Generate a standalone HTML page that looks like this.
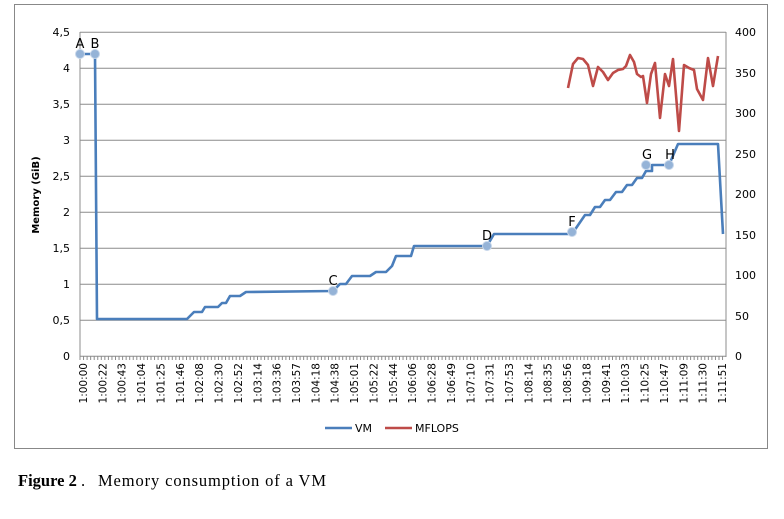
<!DOCTYPE html>
<html><head><meta charset="utf-8"><style>
body{margin:0;background:#fff;width:784px;height:514px;overflow:hidden}
svg text{font-family:"DejaVu Sans","Liberation Sans",sans-serif;fill:#000}
</style></head><body>
<svg width="784" height="514" xmlns="http://www.w3.org/2000/svg">
<rect x="14.5" y="4.5" width="753" height="444" fill="#fff" stroke="#888" stroke-width="1"/>
<g stroke="#8c8c8c" stroke-width="1">
<line x1="80" y1="32.3" x2="726" y2="32.3"/>
<line x1="80" y1="68.3" x2="726" y2="68.3"/>
<line x1="80" y1="104.3" x2="726" y2="104.3"/>
<line x1="80" y1="140.3" x2="726" y2="140.3"/>
<line x1="80" y1="176.3" x2="726" y2="176.3"/>
<line x1="80" y1="212.3" x2="726" y2="212.3"/>
<line x1="80" y1="248.3" x2="726" y2="248.3"/>
<line x1="80" y1="284.3" x2="726" y2="284.3"/>
<line x1="80" y1="320.3" x2="726" y2="320.3"/>
<line x1="80" y1="356.3" x2="726" y2="356.3"/>
<line x1="80" y1="32" x2="80" y2="357"/>
<line x1="726" y1="32" x2="726" y2="357"/>
</g>
<g font-size="11" text-anchor="end">
<text x="70" y="36">4,5</text><text x="70" y="72">4</text><text x="70" y="108">3,5</text>
<text x="70" y="144">3</text><text x="70" y="180">2,5</text><text x="70" y="216">2</text>
<text x="70" y="252">1,5</text><text x="70" y="288">1</text><text x="70" y="324">0,5</text><text x="70" y="360">0</text>
</g>
<g font-size="11">
<text x="735" y="36">400</text><text x="735" y="77">350</text><text x="735" y="117">300</text>
<text x="735" y="158">250</text><text x="735" y="198">200</text><text x="735" y="239">150</text>
<text x="735" y="279">100</text><text x="735" y="320">50</text><text x="735" y="360">0</text>
</g>
<text transform="translate(39,195) rotate(-90)" font-size="10" font-weight="bold" text-anchor="middle">Memory (GiB)</text>
<g id="xl" font-size="10.5" text-anchor="end"></g>
<polyline fill="none" stroke="#4a7ebb" stroke-width="2.6" stroke-linejoin="round" points="80,54 95,54 97,319 187,319 194,312 202,312 205,307 218,307 222,303 226,303 230,296 240,296 246,292 333,291 340,284 346,284 352,276 370,276 376,272 386,272 392,266 396,256 411,256 414,246 487,246 494,234 572,234 585,215 590,215 595,207 600,207 605,200 610,200 616,192 622,192 627,185 632,185 637,178 642,178 646,171 652,171 652,165 669,165 678,144 718,144 723,234"/>
<polyline fill="none" stroke="#be4b48" stroke-width="2.6" stroke-linejoin="round" points="568,88 573,64 578,58 583,59 588,65 593,86 598,67 603,72 608,80 613,73 618,70 623,69 626,66 630,55 634,62 637,74 641,77 643,76 647,103 651,74 655,63 660,118 665,74 669,86 673,59 679,131 684,65 689,68 694,70 697,89 703,100 708,58 713,86 718,56"/>
<g fill="#95b3d7" stroke="#c6d6ea" stroke-width="1">
<circle cx="80" cy="54" r="4.5"/><circle cx="95" cy="54" r="4.5"/><circle cx="333" cy="291" r="4.5"/>
<circle cx="487" cy="246" r="4.5"/><circle cx="572" cy="232" r="4.5"/><circle cx="646" cy="165" r="4.5"/><circle cx="669" cy="165" r="4.5"/>
</g>
<g font-size="13" text-anchor="middle">
<text x="80" y="48">A</text><text x="95" y="48">B</text><text x="333" y="285">C</text>
<text x="487" y="240">D</text><text x="572" y="226">F</text><text x="647" y="159">G</text><text x="670" y="159">H</text>
</g>
<line x1="325" y1="428" x2="352" y2="428" stroke="#4a7ebb" stroke-width="2.6"/>
<text x="355" y="432" font-size="11">VM</text>
<line x1="385" y1="428" x2="412" y2="428" stroke="#be4b48" stroke-width="2.6"/>
<text x="415" y="432" font-size="11">MFLOPS</text>
<text x="18" y="486" font-size="16.5" font-weight="bold" style="font-family:'Liberation Serif',serif">Figure 2</text>
<text x="81" y="486" font-size="16.5" style="font-family:'Liberation Serif',serif">.</text>
<text x="98" y="486" font-size="16.5" style="font-family:'Liberation Serif',serif" textLength="228">Memory consumption of a VM</text>
</svg>
<script>
var labs="1:00:00 1:00:22 1:00:43 1:01:04 1:01:25 1:01:46 1:02:08 1:02:30 1:02:52 1:03:14 1:03:36 1:03:57 1:04:18 1:04:38 1:05:01 1:05:22 1:05:44 1:06:06 1:06:28 1:06:49 1:07:10 1:07:31 1:07:53 1:08:14 1:08:35 1:08:56 1:09:18 1:09:41 1:10:03 1:10:25 1:10:47 1:11:09 1:11:30 1:11:51".split(" ");
var g=document.getElementById("xl"),ns="http://www.w3.org/2000/svg",svg=g.ownerSVGElement;
var n=labs.length;
for(var i=0;i<n;i++){var x=83+(722-83)*i/(n-1);var t=document.createElementNS(ns,"text");
t.setAttribute("transform","translate("+(x+4)+",363) rotate(-90)");t.textContent=labs[i];g.appendChild(t);}
for(var x=80;x<=726;x+=3.55){var l=document.createElementNS(ns,"line");l.setAttribute("x1",x);l.setAttribute("x2",x);l.setAttribute("y1",356);l.setAttribute("y2",360);l.setAttribute("stroke","#8c8c8c");svg.insertBefore(l,g);}
</script>
</body></html>
